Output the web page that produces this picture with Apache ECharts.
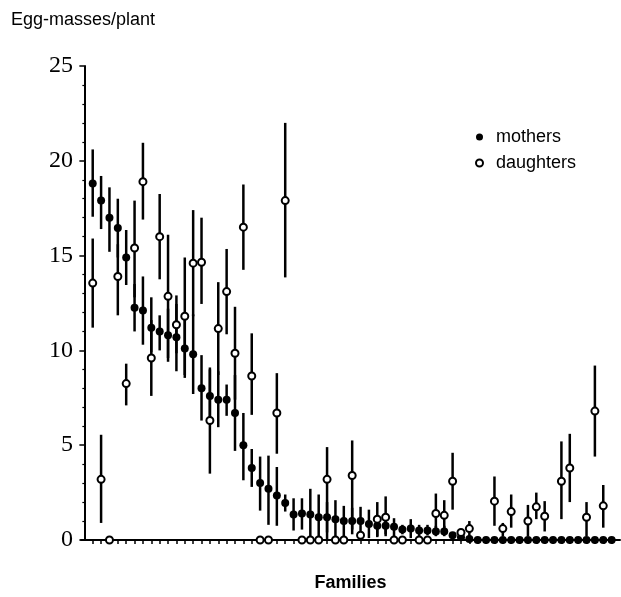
<!DOCTYPE html>
<html>
<head>
<meta charset="utf-8">
<script src="https://cdn.jsdelivr.net/npm/echarts@6/dist/echarts.min.js"></script>
<style>
html,body{margin:0;padding:0;background:#fff;}
#chart{width:621px;height:597px;}
</style>
</head>
<body>
<div id="chart"></div>
<script>
var families = [
  1,2,3,4,5,6,7,8,9,10,
  11,12,13,14,15,16,17,18,19,20,
  21,22,23,24,25,26,27,28,29,30,
  31,32,33,34,35,36,37,38,39,40,
  41,42,43,44,45,46,47,48,49,50,
  51,52,53,54,55,56,57,58,59,60,
  61,62,63
];
var yTicks = [0,5,10,15,20,25];

var motherMean = [
  18.8,17.9,17.0,16.45,14.9,12.25,12.1,11.2,11.0,10.8,
  10.7,10.1,9.8,8.0,7.6,7.4,7.4,6.7,5.0,3.8,
  3.0,2.7,2.35,1.95,1.35,1.4,1.35,1.2,1.2,1.1,
  1.0,1.0,1.0,0.85,0.75,0.75,0.7,0.55,0.6,0.5,
  0.5,0.45,0.45,0.25,0.15,0.05,0,0,0,0,
  0,0,0,0,0,0,0,0,0,0,
  0,0,0
];
var motherLow = [
  17.05,16.4,15.2,14.9,13.45,11.0,10.3,9.9,10.0,9.4,
  8.9,8.55,7.7,6.3,6.2,5.95,6.55,4.7,3.15,2.8,
  1.55,0.8,0.75,1.5,0.5,0.55,0.05,0,0.4,0.1,
  0.2,0.3,0.2,0.1,0.2,0.3,0.2,0.3,0.1,0.2,
  0.25,0.2,0.2,null,null,null,null,null,null,null,
  null,null,null,null,null,null,null,null,null,null,
  null,null,null
];
var motherHigh = [
  20.6,19.2,18.6,18.0,16.35,13.5,13.9,12.8,11.85,12.2,
  12.45,11.6,11.9,9.75,9.0,8.9,8.2,8.7,6.7,4.8,
  4.4,4.45,3.85,2.4,2.2,2.2,2.7,2.4,2.0,2.1,
  1.8,1.7,1.75,1.6,1.3,1.2,1.15,0.8,1.1,0.8,
  0.8,0.75,0.75,null,null,null,null,null,null,null,
  null,null,null,null,null,null,null,null,null,null,
  null,null,null
];
var daughterMean = [
  13.55,3.2,0,13.9,8.25,15.4,18.9,9.6,16.0,12.85,
  11.35,11.8,14.6,14.65,6.3,11.15,13.1,9.85,16.5,8.65,
  0,0,6.7,17.9,null,0,0,0,3.2,0,
  0,3.4,0.25,null,1.1,1.2,0,0,null,0,
  0,1.4,1.3,3.1,0.4,0.6,null,null,2.05,0.6,
  1.5,null,1.0,1.75,1.25,null,3.1,3.8,null,1.2,
  6.8,1.8,null
];
var daughterLow = [
  11.2,0.9,null,11.85,7.1,12.8,16.9,7.6,13.75,9.6,
  9.85,8.7,11.8,12.45,3.5,8.7,10.85,7.4,14.25,6.6,
  null,null,4.55,13.85,null,null,null,null,0.05,null,
  null,0.55,null,null,0.15,0.2,null,null,null,null,
  null,0.45,0.55,1.6,0.25,0.2,null,null,0.75,0.2,
  0.65,null,0.2,1.1,0.45,null,1.1,2.0,null,0.2,
  4.4,0.65,null
];
var daughterHigh = [
  15.9,5.55,null,15.6,9.3,17.9,20.95,11.6,18.25,16.1,
  12.9,14.9,17.4,17.0,9.1,13.6,15.35,12.3,18.75,10.9,
  null,null,8.8,22.0,null,null,null,null,4.9,null,
  null,5.25,null,null,2.0,2.3,null,null,null,null,
  null,2.45,2.1,4.6,0.55,1.0,null,null,3.35,0.9,
  2.4,null,1.85,2.5,2.05,null,5.2,5.6,null,2.0,
  9.2,2.9,null
];

function points(mean){
  var out = [];
  for (var i = 0; i < families.length; i++) {
    if (mean[i] !== null) out.push([families[i], mean[i]]);
  }
  return out;
}
function bars(lo, hi){
  var out = [];
  for (var i = 0; i < families.length; i++) {
    if (lo[i] !== null && hi[i] !== null) out.push([families[i], lo[i], hi[i]]);
  }
  return out;
}
function renderBar(params, api){
  var a = api.coord([api.value(0), api.value(1)]);
  var b = api.coord([api.value(0), api.value(2)]);
  return {
    type: 'line',
    shape: {x1: a[0], y1: a[1], x2: b[0], y2: b[1]},
    style: {stroke: '#000', lineWidth: 2.5}
  };
}

var chart = echarts.init(document.getElementById('chart'), null, {renderer: 'canvas'});
chart.setOption({
  animation: false,
  backgroundColor: '#fff',
  title: {
    text: 'Egg-masses/plant',
    left: 6, top: 6,
    textStyle: {fontFamily: 'Liberation Sans', fontSize: 18, fontWeight: 'normal', color: '#000'}
  },
  legend: {
    orient: 'vertical',
    left: 470, top: 123,
    itemWidth: 17, itemHeight: 7, itemGap: 8,
    data: ['mothers', 'daughters'],
    textStyle: {fontFamily: 'Liberation Sans', fontSize: 18, color: '#000', lineHeight: 18, padding: [0,0,0,3]}
  },
  grid: {left: 81, right: 1, top: 66, bottom: 53.5},
  xAxis: {
    type: 'value',
    min: -0.4, max: 64,
    name: 'Families',
    nameLocation: 'middle',
    nameGap: 34,
    nameTextStyle: {fontFamily: 'Liberation Sans', fontSize: 18, fontWeight: 'bold', color: '#000'},
    axisLine: {show: true, onZero: false, lineStyle: {color: '#000', width: 2}},
    axisTick: {show: true, customValues: families, length: 4, lineStyle: {color: '#000', width: 1.5}},
    axisLabel: {show: false},
    splitLine: {show: false}
  },
  yAxis: {
    type: 'value',
    min: 0, max: 25, interval: 5,
    axisLine: {show: true, lineStyle: {color: '#000', width: 2}},
    axisTick: {show: true, length: 5, lineStyle: {color: '#000', width: 1.5}},
    minorTick: {show: true, splitNumber: 5, length: 2, lineStyle: {color: '#000', width: 1.2}},
    axisLabel: {fontFamily: 'Liberation Serif', fontSize: 24, color: '#000', margin: 8},
    splitLine: {show: false}
  },
  series: [
    {
      name: 'motherBars', type: 'custom', renderItem: renderBar,
      data: bars(motherLow, motherHigh), z: 1, silent: true,
      encode: {x: 0, y: [1, 2]}
    },
    {
      name: 'daughterBars', type: 'custom', renderItem: renderBar,
      data: bars(daughterLow, daughterHigh), z: 1, silent: true,
      encode: {x: 0, y: [1, 2]}
    },
    {
      name: 'mothers', type: 'scatter', symbol: 'circle', symbolSize: 8,
      itemStyle: {color: '#000', opacity: 1},
      data: points(motherMean), z: 3
    },
    {
      name: 'daughters', type: 'scatter', symbol: 'circle', symbolSize: 7,
      itemStyle: {color: '#fff', borderColor: '#000', borderWidth: 2, opacity: 1},
      data: points(daughterMean), z: 4
    }
  ]
});
</script>
</body>
</html>
